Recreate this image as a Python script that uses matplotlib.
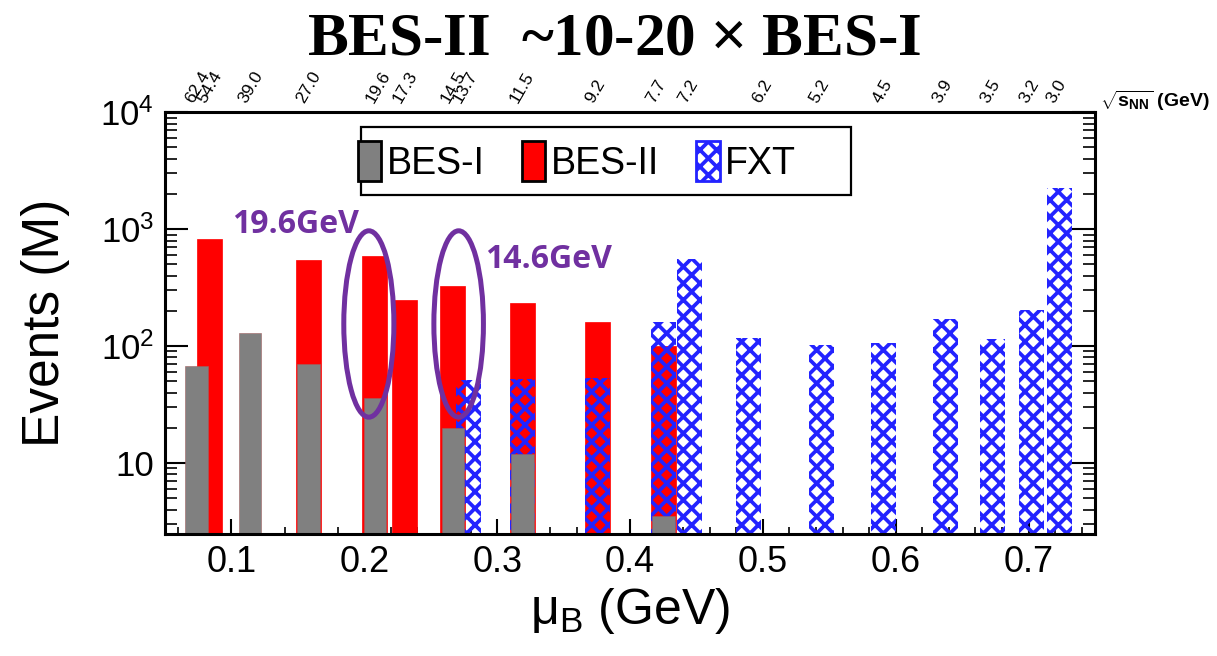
import matplotlib
matplotlib.use("Agg")
import matplotlib.pyplot as plt
import numpy as np
from matplotlib.patches import Ellipse, Rectangle, Patch
from matplotlib.ticker import MultipleLocator, LogLocator, NullFormatter

plt.rcParams['font.family'] = ['Liberation Sans', 'DejaVu Sans']
plt.rcParams['mathtext.fontset'] = 'custom'
plt.rcParams['mathtext.rm'] = 'Liberation Sans'
plt.rcParams['mathtext.it'] = 'Liberation Sans:italic'
plt.rcParams['mathtext.bf'] = 'Liberation Sans:bold'
plt.rcParams['hatch.linewidth'] = 2.7

# ---------------- data ----------------
besI_energy = [62.4, 39.0, 27.0, 19.6, 14.5, 11.5, 7.7]
besI_mu = [0.0736, 0.1138, 0.1580, 0.2079, 0.2665, 0.3190, 0.4252]
besI_events = [68, 130, 70, 36, 20, 12, 3.5]

besII_energy = [54.4, 27.0, 19.6, 17.3, 14.5, 11.5, 9.2, 7.7]
besII_mu = [0.0837, 0.1580, 0.2079, 0.2305, 0.2665, 0.3190, 0.3757, 0.4252]
besII_events = [830, 550, 585, 250, 325, 235, 160, 100]

fxt_energy = [13.7, 11.5, 9.2, 7.7, 7.2, 6.2, 5.2, 4.5, 3.9, 3.5, 3.2, 3.0]
fxt_mu = [0.2785, 0.3190, 0.3757, 0.4252, 0.4444, 0.4892, 0.5441, 0.5908,
          0.6375, 0.6729, 0.7022, 0.7230]
fxt_events = [51, 52, 53, 162, 560, 118, 102, 107, 169, 116, 202, 2240]

top_labels = ['62.4', '54.4', '39.0', '27.0', '19.6', '17.3', '14.5', '13.7',
              '11.5', '9.2', '7.7', '7.2', '6.2', '5.2', '4.5', '3.9', '3.5',
              '3.2', '3.0']
top_mu = [0.0749, 0.0837, 0.1143, 0.1582, 0.2104, 0.2310, 0.2669, 0.2757,
          0.3188, 0.3741, 0.4195, 0.4438, 0.4997, 0.5422, 0.5901, 0.6352,
          0.6716, 0.7004, 0.7207]

x_ticks = [0.1, 0.2, 0.3, 0.4, 0.5, 0.6, 0.7]
y_ticks = [10, 100, 1000, 10000]
y_ticklabels = ['10', '$10^{2}$', '$10^{3}$', '$10^{4}$']

# ---------------- styles ----------------
GRAY = '#808080'
RED = '#ff0000'
BLUE = '#2323ff'
PURPLE = '#7030a0'

fig = plt.figure(figsize=(12.17, 6.56), dpi=100)
ax = fig.add_axes([0.1356, 0.186, 0.7642, 0.6428])

ax.set_yscale('log')
ax.set_xlim(0.05, 0.75)
ax.set_ylim(2.47, 1e4)

ax.bar(besII_mu, besII_events, width=0.019, color=RED, edgecolor=RED,
       linewidth=0.5, zorder=2)
ax.bar(fxt_mu, fxt_events, width=0.0188, facecolor='none', edgecolor=BLUE,
       hatch='xx', linewidth=0, zorder=3)
ax.bar(besI_mu, besI_events, width=0.0168, color=GRAY, edgecolor='#a06060',
       linewidth=0.4, zorder=4)

# axes styling
for s in ax.spines.values():
    s.set_linewidth(2.2)
    s.set_zorder(10)
ax.set_xticks(x_ticks)
ax.set_xticklabels([f'{v:.1f}' for v in x_ticks])
ax.xaxis.set_minor_locator(MultipleLocator(0.02))
ax.set_yticks(y_ticks)
ax.set_yticklabels(y_ticklabels)
ax.yaxis.set_minor_locator(LogLocator(base=10, subs=np.arange(2, 10)))
ax.yaxis.set_minor_formatter(NullFormatter())
ax.tick_params(axis='x', which='major', direction='in', length=11, width=1.5,
               labelsize=26, pad=8, top=False, bottom=True)
ax.tick_params(axis='x', which='minor', direction='in', length=5, width=1.2,
               top=False, bottom=True)
ax.tick_params(axis='y', which='major', direction='in', length=16.5, width=1.5,
               labelsize=25, pad=8, left=True, right=True)
ax.tick_params(axis='y', which='minor', direction='in', length=8.5, width=1.2,
               left=True, right=True)

ax.set_ylabel('Events (M)', fontsize=37, labelpad=22)
ax.set_xlabel('μ$_{\\mathrm{B}}$ (GeV)', fontsize=36, labelpad=4)

# top axis with sqrt(s_NN)
sec = ax.secondary_xaxis('top')
sec.set_xticks(top_mu)
sec.set_xticklabels(top_labels)
sec.tick_params(axis='x', length=0, labelsize=12.5, pad=5, labelrotation=60)
sec.xaxis.set_minor_locator(MultipleLocator(1.0))
sec.tick_params(axis='x', which='minor', length=0)
fig.text(0.904, 0.846, r'$\sqrt{\mathbf{s}_{\mathbf{NN}}}$ (GeV)',
         fontsize=14, weight='bold', ha='left', va='center')

# legend
handles = [Patch(facecolor=GRAY, edgecolor='black', linewidth=2),
           Patch(facecolor=RED, edgecolor='black', linewidth=2),
           Patch(facecolor='white', edgecolor=BLUE, hatch='xx', linewidth=2)]
leg = ax.legend(handles, ['BES-I', 'BES-II', 'FXT'], ncol=3, frameon=False,
                loc='center left', bbox_to_anchor=(0.207, 0.8845),
                fontsize=27, handlelength=0.62, handleheight=1.3,
                handletextpad=0.15, columnspacing=1.0, borderpad=0,
                borderaxespad=0)
leg.set_zorder(12)
ax.add_patch(Rectangle((0.211, 0.804), 0.527, 0.161, transform=ax.transAxes,
                       fill=False, edgecolor='black', linewidth=1.6,
                       zorder=11))

# annotations
xt = ax.get_xaxis_transform()
ax.add_patch(Ellipse((0.2034, 0.498), 0.0377, 0.442, transform=xt,
                     fill=False, edgecolor=PURPLE, linewidth=3.6, zorder=8))
ax.add_patch(Ellipse((0.2710, 0.498), 0.0373, 0.442, transform=xt,
                     fill=False, edgecolor=PURPLE, linewidth=3.6, zorder=8))
ax.text(0.0717, 0.714, '19.6GeV', transform=ax.transAxes, color=PURPLE,
        fontsize=23, fontfamily='Open Sans', weight='bold', ha='left',
        va='baseline', zorder=9)
ax.text(0.344, 0.631, '14.6GeV', transform=ax.transAxes, color=PURPLE,
        fontsize=23, fontfamily='Open Sans', weight='bold', ha='left',
        va='baseline', zorder=9)

fig.text(0.505, 0.94, r'BES-II  ~10-20 $\times$ BES-I', fontsize=44,
         fontfamily='Liberation Serif', weight='bold', ha='center',
         va='center')

fig.savefig('out.png', dpi=100)
